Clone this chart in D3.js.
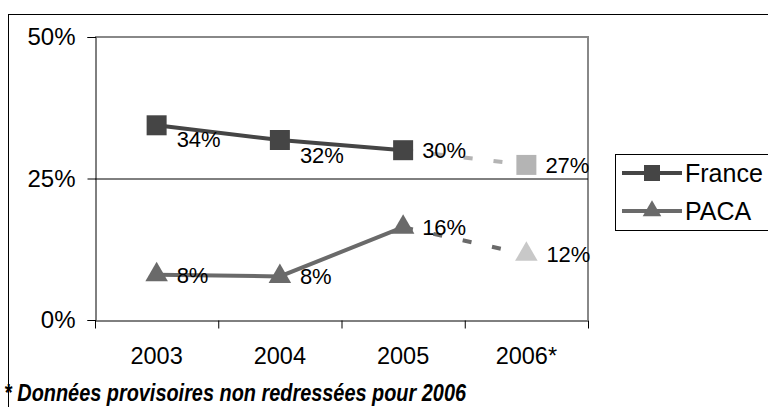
<!DOCTYPE html>
<html>
<head>
<meta charset="utf-8">
<script src="https://cdn.jsdelivr.net/npm/d3@7"></script>
<style>
  body { margin: 0; background: #fff; }
  svg text { font-family: "Liberation Sans", Arial, sans-serif; }
</style>
</head>
<body>
<svg id="chart" width="768" height="407"></svg>
<script>
const years = ['2003', '2004', '2005', '2006*'];
const france = [34.4, 31.8, 30.0, 27.4];
const paca = [8.0, 7.7, 16.4, 11.6];
const franceLabels = ['34%', '32%', '30%', '27%'];
const pacaLabels = ['8%', '8%', '16%', '12%'];
const yTicks = [0, 25, 50];
const seriesNames = ['France', 'PACA'];
const footnote = '* Données provisoires non redressées pour 2006';

const svg = d3.select('#chart');
const plot = { left: 95, right: 588, top: 37, bottom: 320 };

const x = d3.scaleBand().domain(years).range([plot.left, plot.right]);
const y = d3.scaleLinear().domain([0, 50]).range([plot.bottom, plot.top]);
const cx = d => x(d) + x.bandwidth() / 2;

// outer frame
svg.append('rect')
  .attr('x', 8.5).attr('y', 14.5)
  .attr('width', 800).attr('height', 500)
  .attr('fill', 'none').attr('stroke', '#000').attr('stroke-width', 1);

// plot area border (grey top/right)
svg.append('path')
  .attr('d', `M${plot.left},${y(50)}H${plot.right}V${plot.bottom}`)
  .attr('fill', 'none').attr('stroke', '#888').attr('stroke-width', 2);

// grid line at 25%
svg.append('line')
  .attr('x1', plot.left).attr('x2', plot.right)
  .attr('y1', y(25) + 0.5).attr('y2', y(25) + 0.5)
  .attr('stroke', '#000');

// axes
const yAxis = svg.append('g')
  .attr('transform', `translate(${plot.left + 0.5},0)`)
  .call(d3.axisLeft(y).tickValues(yTicks).tickFormat(d => d + '%').tickSize(8).tickPadding(12));
yAxis.attr('font-family', null);
yAxis.selectAll('text').attr('font-size', 24).attr('fill', '#000');

const xAxis = svg.append('g')
  .attr('transform', `translate(0,${plot.bottom + 0.5})`)
  .call(d3.axisBottom(x).tickSize(0).tickPadding(27));
xAxis.attr('font-family', null);
xAxis.selectAll('text').attr('font-size', 23.5).attr('fill', '#000');
// boundary ticks between categories
xAxis.selectAll('.bound')
  .data(years.concat(['end']))
  .enter().append('line')
  .attr('class', 'bound')
  .attr('x1', (d, i) => plot.left + i * x.bandwidth() + 0.5)
  .attr('x2', (d, i) => plot.left + i * x.bandwidth() + 0.5)
  .attr('y1', 0).attr('y2', 8)
  .attr('stroke', '#000');

function drawSeries(values, color, dashColor, lastColor, shape, labels, offsets) {
  const pts = values.map((v, i) => [cx(years[i]), y(v)]);
  const line = d3.line();
  svg.append('path')
    .attr('d', line(pts.slice(0, 3)))
    .attr('fill', 'none').attr('stroke', color).attr('stroke-width', 4);
  svg.append('path')
    .attr('d', line(pts.slice(2, 4)))
    .attr('fill', 'none').attr('stroke', dashColor).attr('stroke-width', 4)
    .attr('stroke-dasharray', '9,21').attr('stroke-dashoffset', -1);
  const sym = d3.symbol().type(shape).size(shape === d3.symbolSquare ? 400 : 220);
  svg.selectAll(null)
    .data(pts)
    .enter().append('path')
    .attr('transform', d => `translate(${d[0]},${d[1]})`)
    .attr('d', sym)
    .attr('fill', (d, i) => i === 3 ? lastColor : color);
  svg.selectAll(null)
    .data(pts)
    .enter().append('text')
    .attr('x', (d, i) => d[0] + offsets[i][0])
    .attr('y', (d, i) => d[1] + offsets[i][1])
    .attr('font-size', 22)
    .text((d, i) => labels[i]);
}

drawSeries(france, '#454545', '#b4b4b4', '#b4b4b4', d3.symbolSquare, franceLabels,
  [[20, 22], [20, 23], [19, 8], [19, 8]]);
drawSeries(paca, '#6a6a6a', '#6a6a6a', '#c8c8c8', d3.symbolTriangle, pacaLabels,
  [[20, 8], [20, 8], [19, 8], [20, 8]]);

// legend
const legend = svg.append('g').attr('transform', 'translate(615,154)');
legend.append('rect')
  .attr('x', 0.5).attr('y', 0.5).attr('width', 200).attr('height', 76)
  .attr('fill', '#fff').attr('stroke', '#000');
const legendItems = [
  { name: seriesNames[0], color: '#454545', shape: d3.symbolSquare, size: 256 },
  { name: seriesNames[1], color: '#6a6a6a', shape: d3.symbolTriangle, size: 150 }
];
legendItems.forEach((it, i) => {
  const ly = 19 + i * 38;
  legend.append('line')
    .attr('x1', 7).attr('x2', 67).attr('y1', ly).attr('y2', ly)
    .attr('stroke', it.color).attr('stroke-width', 4);
  legend.append('path')
    .attr('transform', `translate(37,${ly})`)
    .attr('d', d3.symbol().type(it.shape).size(it.size))
    .attr('fill', it.color);
  legend.append('text')
    .attr('x', 70).attr('y', ly + 9)
    .attr('font-size', 25)
    .text(it.name);
});

// footnote
svg.append('text')
  .attr('x', 4).attr('y', 401)
  .attr('font-size', 23).attr('font-weight', 'bold').attr('font-style', 'italic')
  .attr('textLength', 462).attr('lengthAdjust', 'spacingAndGlyphs')
  .text(footnote);
</script>
</body>
</html>
